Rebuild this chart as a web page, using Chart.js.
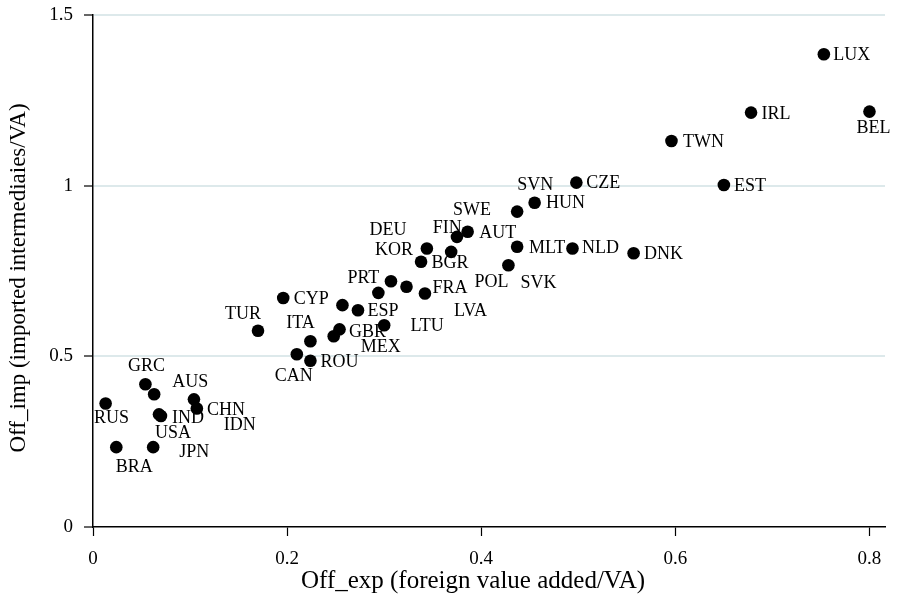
<!DOCTYPE html>
<html>
<head>
<meta charset="utf-8">
<script src="https://cdn.jsdelivr.net/npm/chart.js@4/dist/chart.umd.min.js"></script>
<style>
  html, body { margin: 0; padding: 0; background: #fff; }
</style>
</head>
<body>
<canvas id="chart" width="897" height="599"></canvas>
<script>
// Country codes and the two offshoring measures
const countries = ['LUX', 'BEL', 'IRL', 'TWN', 'EST', 'CZE', 'HUN', 'SVN', 'AUT', 'SWE',
  'FIN', 'DEU', 'BGR', 'MLT', 'NLD', 'DNK', 'SVK', 'KOR', 'LVA', 'FRA',
  'PRT', 'POL', 'ESP', 'CYP', 'LTU', 'GBR', 'MEX', 'TUR', 'ITA', 'CAN',
  'ROU', 'RUS', 'GRC', 'AUS', 'CHN', 'IDN', 'IND', 'USA', 'JPN', 'BRA'];

const offExp = [0.753, 0.800, 0.678, 0.596, 0.650, 0.498, 0.455, 0.437, 0.386, 0.375,
  0.369, 0.344, 0.338, 0.437, 0.494, 0.557, 0.428, 0.307, 0.323, 0.342,
  0.294, 0.257, 0.273, 0.196, 0.300, 0.254, 0.248, 0.170, 0.224, 0.210,
  0.224, 0.013, 0.054, 0.063, 0.104, 0.107, 0.070, 0.068, 0.062, 0.024];

const offImp = [1.385, 1.217, 1.214, 1.131, 1.002, 1.009, 0.950, 0.924, 0.865, 0.850,
  0.806, 0.816, 0.777, 0.821, 0.816, 0.802, 0.767, 0.720, 0.704, 0.684,
  0.686, 0.650, 0.635, 0.671, 0.591, 0.579, 0.559, 0.575, 0.544, 0.506,
  0.487, 0.362, 0.418, 0.389, 0.374, 0.347, 0.325, 0.330, 0.234, 0.234];

const xTicks = [0, 0.2, 0.4, 0.6, 0.8];
const yTicks = [0, 0.5, 1, 1.5];

const xTitle = 'Off_exp (foreign value added/VA)';
const yTitle = 'Off_imp (imported intermediaies/VA)';

// where each country label sits relative to its marker (px)
const labelNudge = [[28, 1], [4, 17], [25, 2], [32, 1], [26, 1], [27, 1], [31, 1], [18, -26], [30, 2], [15, -27],
  [-4, -24], [-39, -18], [29, 1], [30, 2], [28, 0], [30, 1], [30, 18], [3, -31], [64, 25], [25, -5],
  [-15, -15], [149, -23], [25, 1], [28, 1], [43, 1], [28, 3], [47, 11], [-15, -16], [-10, -18], [-3, 22],
  [29, 1], [6, 15], [1, -18], [36, -12], [32, 11], [43, 17], [27, 2], [14, 19], [41, 5], [18, 20]];

const serif = "'Liberation Serif', 'Times New Roman', serif";

const pointLabels = {
  id: 'pointLabels',
  afterDatasetsDraw(chart) {
    const ctx = chart.ctx;
    const meta = chart.getDatasetMeta(0);
    ctx.save();
    ctx.font = '18px ' + serif;
    ctx.fillStyle = '#000';
    ctx.textAlign = 'center';
    ctx.textBaseline = 'middle';
    meta.data.forEach((pt, i) => {
      const n = labelNudge[i];
      ctx.fillText(countries[i], pt.x + n[0], pt.y + n[1]);
    });
    ctx.restore();
  }
};

// axis titles, centred a little off the plot centre as in the original
const axisTitles = {
  id: 'axisTitles',
  afterDraw(chart) {
    const { ctx, chartArea } = chart;
    ctx.save();
    ctx.fillStyle = '#000';
    ctx.textAlign = 'center';
    ctx.textBaseline = 'middle';
    ctx.font = '25px ' + serif;
    ctx.fillText(xTitle, (chartArea.left + chartArea.right) / 2 - 16, chart.height - 18);
    ctx.translate(19, (chartArea.top + chartArea.bottom) / 2 + 7);
    ctx.rotate(-Math.PI / 2);
    ctx.font = '23px ' + serif;
    ctx.fillText(yTitle, 0, 0);
    ctx.restore();
  }
};

const ctx = document.getElementById('chart').getContext('2d');
new Chart(ctx, {
  type: 'scatter',
  data: {
    datasets: [{
      data: countries.map((c, i) => ({ x: offExp[i], y: offImp[i] })),
      backgroundColor: '#000',
      borderColor: '#000',
      borderWidth: 0,
      pointRadius: 6.3,
      pointHoverRadius: 6.3
    }]
  },
  options: {
    responsive: false,
    animation: false,
    layout: { padding: { top: 15, right: 12, left: 0, bottom: 0 } },
    plugins: {
      legend: { display: false },
      tooltip: { enabled: false }
    },
    scales: {
      x: {
        type: 'linear',
        min: 0,
        max: 0.816,
        afterBuildTicks: (axis) => { axis.ticks = xTicks.map(v => ({ value: v })); },
        afterFit: (scale) => {
          scale.height = 72;
          scale.paddingLeft = 0;
          scale.paddingRight = 0;
        },
        ticks: {
          color: '#000',
          padding: 12,
          font: { family: serif, size: 19 },
          callback: (v) => String(v)
        },
        grid: {
          drawOnChartArea: false,
          tickLength: 9,
          tickColor: '#000',
          tickWidth: 1.2
        },
        border: { color: '#000', width: 1.5 }
      },
      y: {
        type: 'linear',
        min: 0,
        max: 1.5,
        afterBuildTicks: (axis) => { axis.ticks = yTicks.map(v => ({ value: v })); },
        afterFit: (scale) => {
          scale.width = 93;
          scale.paddingTop = 0;
          scale.paddingBottom = 0;
        },
        ticks: {
          color: '#000',
          padding: 11,
          font: { family: serif, size: 19 },
          callback: (v) => String(v)
        },
        grid: {
          color: (c) => c.tick && c.tick.value === 0 ? 'rgba(0,0,0,0)' : '#dde9eb',
          lineWidth: 2,
          tickLength: 9,
          tickColor: '#000',
          tickWidth: 1.2
        },
        border: { color: '#000', width: 1.5 }
      }
    }
  },
  plugins: [pointLabels, axisTitles]
});
</script>
</body>
</html>
